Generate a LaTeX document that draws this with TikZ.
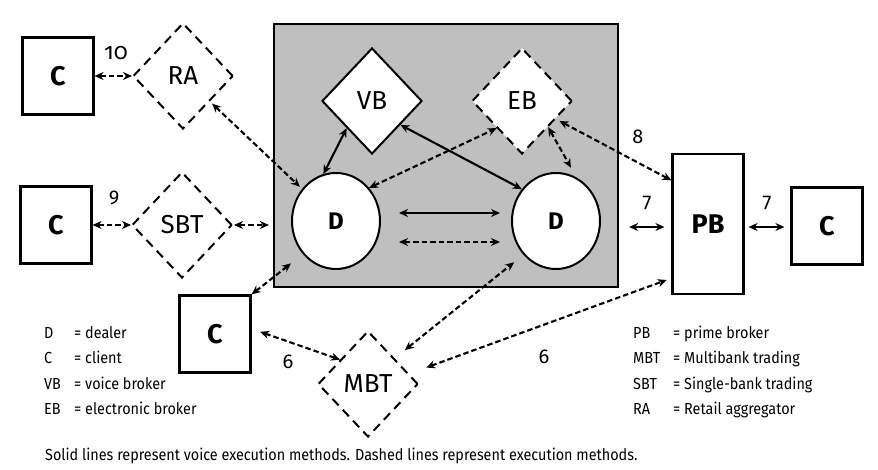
\documentclass[tikz,border=0pt]{standalone}
\usepackage{fontspec}
\setmainfont{Fira Sans}[Numbers=OldStyle]
\newfontfamily\legfont{Fira Sans}[FakeStretch=0.9]
\usetikzlibrary{arrows.meta,shapes.geometric,calc}
\begin{document}
\begin{tikzpicture}[x=1pt,y=-1pt,
  >={Stealth[length=9pt,width=8pt]},
  cbox/.style={draw, fill=white, line width=2.2pt, minimum width=71pt, minimum height=77pt, inner sep=0pt, font=\bfseries\fontsize{27}{27}\selectfont},
  dia/.style={diamond, draw, fill=white, line width=2pt, dash pattern=on 9pt off 6pt, minimum width=100pt, minimum height=106pt, inner sep=0pt, font=\fontsize{26}{26}\selectfont},
  dealer/.style={ellipse, draw, fill=white, line width=2pt, minimum width=88pt, minimum height=96pt, inner sep=0pt, font=\bfseries\fontsize{24}{24}\selectfont},
  dl/.style={<->, line width=2.1pt, dash pattern=on 5.5pt off 3pt},
  sl/.style={<->, line width=2.1pt},
  num/.style={anchor=base, inner sep=0pt, font=\fontsize{20}{20}\selectfont},
  leg/.style={anchor=base west, inner sep=0pt, font=\legfont\fontsize{16}{16}\selectfont}]
\useasboundingbox (0,0) rectangle (878,470);
% dealer area
\node[draw, fill=black!25, line width=2.2pt, minimum width=344pt, minimum height=263pt, inner sep=0pt] (G) at (446,155.5) {};
% boxes
\node[cbox] (C1) at (58,76) {C};
\node[cbox] (C2) at (56,225) {C};
\node[cbox] (Cb) at (215,334) {C};
\node[cbox] (Cr) at (827,226) {C};
\node[cbox, minimum height=140pt] (PB) at (708,224) {PB};
% diamonds
\node[dia] (RA) at (183,76) {RA};
\node[dia] (SBT) at (182,225) {SBT};
\node[dia, solid] (VB) at (372,101) {VB};
\node[dia] (EB) at (522,101) {EB};
\node[dia] (MBT) at (368,384) {MBT};
% dealers
\node[dealer] (Dl) at (336,221) {D};
\node[dealer] (Dr) at (556,221) {D};
% connectors
\draw[dl] (C1) -- (RA);
\draw[dl] (C2) -- (SBT);
\draw[dl, shorten <=1pt, shorten >=4pt] (SBT) -- (G.west |- SBT);
\draw[dl, shorten <=3pt, shorten >=3pt] (RA) -- (Dl);
\draw[sl] (VB.227) -- (Dl.105);
\draw[sl] (VB.-40) -- (Dr.137);
\draw[dl] (Dl.45) -- (EB.227);
\draw[dl, shorten >=11pt] (EB.-45) -- (Dr.65);
\draw[dl, shorten <=4pt] (EB.-28) -- (PB.130);
\draw[sl] ($(Dl.east)+(18,-8)$) -- ($(Dr.west)+(-11,-8)$);
\draw[dl] ($(Dl.east)+(18,21)$) -- ($(Dr.west)+(-11,21)$);
\draw[sl] ($(G.east|-PB)+(10,3)$) -- ($(PB.west)+(-7,3)$);
\draw[sl] ($(PB.east)+(4,3)$) -- ($(Cr.west)+(-6,1)$);
\draw[dl, shorten >=15pt] (Cb.north east) -- (Dl.225);
\draw[dl, shorten <=9pt] (Cb.8) -- (MBT.139);
\draw[dl, shorten <=13pt, shorten >=12pt] (MBT.44) -- (Dr.226);
\draw[dl, shorten <=18pt, shorten >=5pt] (MBT.14) -- (PB.236);
% numbers
\node[num, font=\fontsize{23}{23}\selectfont] (n10) at (116,60) {10};
\node[num] (n9) at (114,203) {9};
\node[num] (n8) at (638,144) {8};
\node[num] (n7a) at (647,208) {7};
\node[num] (n7b) at (767,208) {7};
\node[num] (n6a) at (288,368) {6};
\node[num] (n6b) at (544,363) {6};
% legend left
\node[leg] (lD) at (44,338) {D};
\node[leg] (lDt) at (74,338) {= dealer};
\node[leg] (lC) at (44,363.5) {C};
\node[leg] (lCt) at (74,363.5) {= client};
\node[leg] (lVB) at (44,389) {VB};
\node[leg] (lVBt) at (74,389) {= voice broker};
\node[leg] (lEB) at (44,414.5) {EB};
\node[leg] (lEBt) at (74,414.5) {= electronic broker};
% legend right
\node[leg] (lPB) at (633,338) {PB};
\node[leg] (lPBt) at (673,338) {= prime broker};
\node[leg] (lMBT) at (633,363.5) {MBT};
\node[leg] (lMBTt) at (673,363.5) {= Multibank trading};
\node[leg] (lSBT) at (633,389) {SBT};
\node[leg] (lSBTt) at (673,389) {= Single-bank trading};
\node[leg] (lRA) at (633,414.5) {RA};
\node[leg] (lRAt) at (673,414.5) {= Retail aggregator};
% caption
\node[leg] (cap) at (45,460) {Solid lines represent voice execution methods. Dashed lines represent execution methods.};
\end{tikzpicture}
\end{document}
